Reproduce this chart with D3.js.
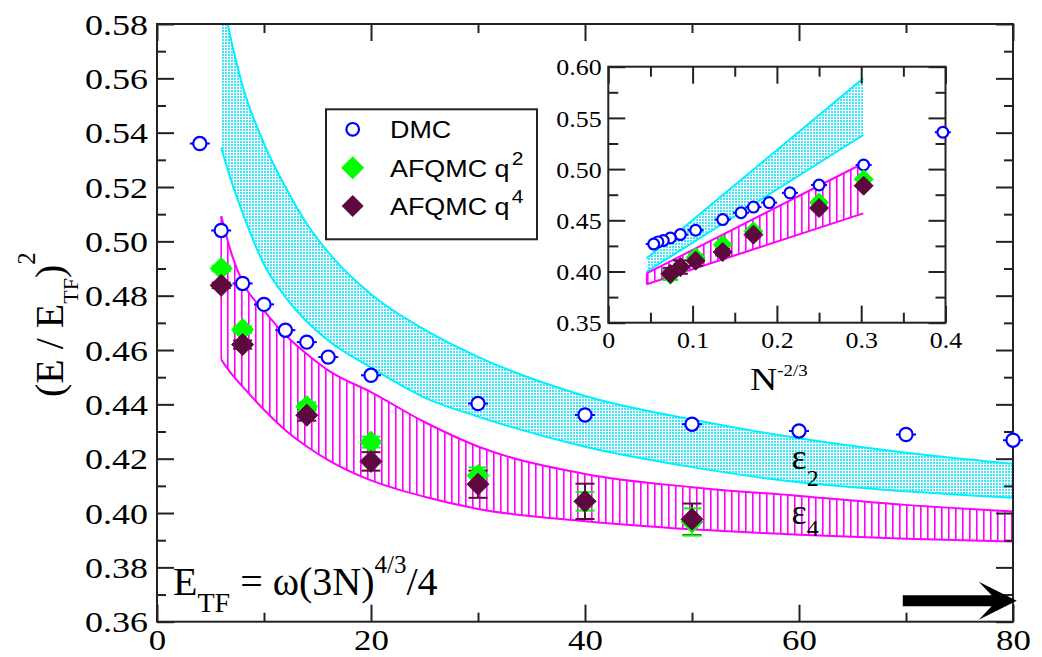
<!DOCTYPE html>
<html><head><meta charset="utf-8">
<script src="https://cdn.jsdelivr.net/npm/d3@7"></script>
<style>body{margin:0;background:#fff}svg{display:block}</style>
</head><body>
<svg id="c" width="1042" height="657"></svg>
<script>
// ---------------- DATA ----------------
const dmcN = [4, 6, 8, 10, 12, 14, 16, 20, 30, 40, 50, 60, 70, 80];
const dmcE = [0.536, 0.504, 0.4845, 0.4768, 0.4673, 0.4629, 0.4574, 0.4507, 0.4403, 0.4361, 0.4327, 0.4302, 0.4289, 0.4268];

const afqN = [6, 8, 14, 20, 30, 40, 50];
const afq2E = [0.4900, 0.4675, 0.4392, 0.4261, 0.4138, 0.4043, 0.3967];
const afq2Err = [0.0010, 0.0012, 0.0015, 0.0020, 0.0030, 0.0034, 0.0050];
const afq4E = [0.4838, 0.4620, 0.4360, 0.4190, 0.4106, 0.4043, 0.3977];
const afq4Err = [0.0010, 0.0015, 0.0020, 0.0034, 0.0050, 0.0065, 0.0058];

// bands (epsilon_2 cyan, epsilon_4 magenta)
const bandN   = [6, 7, 8, 10, 12, 14, 16, 20, 25, 30, 40, 50, 60, 70, 80];
const e2Lower = [0.5345, 0.5215, 0.5105, 0.4915, 0.4795, 0.4705, 0.4635, 0.4535, 0.4425, 0.4355, 0.4244, 0.4169, 0.4113, 0.4080, 0.4056];
const e2Upper = [0.5926, 0.5728, 0.5572, 0.5360, 0.5200, 0.5065, 0.4960, 0.4805, 0.4675, 0.4575, 0.4431, 0.4344, 0.4275, 0.4222, 0.4181];
const e4Upper = [0.5093, 0.4950, 0.4850, 0.4745, 0.4655, 0.4585, 0.4525, 0.4445, 0.4335, 0.4245, 0.4144, 0.4095, 0.4063, 0.4030, 0.4006];
const e4Lower = [0.4565, 0.4510, 0.4465, 0.4380, 0.4305, 0.4245, 0.4195, 0.4120, 0.4060, 0.4015, 0.3970, 0.3940, 0.3920, 0.3905, 0.3895];

// inset bands (straight in N^-2/3)
const insetT       = [0.0455, 0.3025];
const insetE2Lower = [0.3998, 0.5333];
const insetE2Upper = [0.4129, 0.5887];
const insetE4Lower = [0.3875, 0.4568];
const insetE4Upper = [0.3982, 0.5057];

// ticks
const mainXMajor = [0, 20, 40, 60, 80];
const mainXMinor = [10, 30, 50, 70];
const mainYMajor = [0.36, 0.38, 0.40, 0.42, 0.44, 0.46, 0.48, 0.50, 0.52, 0.54, 0.56, 0.58];
const mainYMinor = [0.37, 0.39, 0.41, 0.43, 0.45, 0.47, 0.49, 0.51, 0.53, 0.55, 0.57];
const insetXMajor = [0, 0.1, 0.2, 0.3, 0.4];
const insetXMinor = [0.05, 0.15, 0.25, 0.35];
const insetYMajor = [0.35, 0.40, 0.45, 0.50, 0.55, 0.60];
const insetYMinor = [0.375, 0.425, 0.475, 0.525, 0.575];

const legendNames = ["DMC", "AFQMC q", "AFQMC q"];
const legendSups  = ["", "2", "4"];

// ---------------- SETUP ----------------
const svg = d3.select("#c");
const CYAN = "#00f0ff", MAG = "#ff00ff", BLUE = "#0000ff", GREEN = "#00ff00", MAROON = "#5e0840", INK = "#222";
const SERIF = "'Liberation Serif', 'Times New Roman', serif";
const SANS = "'Liberation Sans', Arial, sans-serif";

const x = d3.scaleLinear().domain([0, 80]).range([157, 1013]);
const y = d3.scaleLinear().domain([0.36, 0.58]).range([621.7, 24]);
const xi = d3.scaleLinear().domain([0, 0.4]).range([608.3, 945.5]);
const yi = d3.scaleLinear().domain([0.35, 0.60]).range([322.7, 66.7]);

const defs = svg.append("defs");
const pd = defs.append("pattern").attr("id", "dots").attr("patternUnits", "userSpaceOnUse").attr("width", 3).attr("height", 3);
pd.append("rect").attr("width", 3).attr("height", 3).attr("fill", "#fff");
pd.append("rect").attr("width", 2).attr("height", 2).attr("fill", "#40e6f4");
const ph = defs.append("pattern").attr("id", "hatch").attr("patternUnits", "userSpaceOnUse").attr("width", 7).attr("height", 10);
ph.append("rect").attr("x", 3).attr("width", 1.6).attr("height", 10).attr("fill", MAG);
defs.append("clipPath").attr("id", "clipMain").append("rect")
  .attr("x", x.range()[0]).attr("y", y.range()[1])
  .attr("width", x.range()[1] - x.range()[0]).attr("height", y.range()[0] - y.range()[1]);

function stretchX(sel, s) {
  sel.each(function () {
    const t = d3.select(this);
    const x0 = +t.attr("x") || 0;
    t.attr("transform", `translate(${x0 * (1 - s)},0) scale(${s},1)`);
  });
}

function drawBand(g, xs, ys, xv, lo, hi, fill, color, curve, leftEdge) {
  const data = xv.map((v, i) => ({ v, lo: lo[i], hi: hi[i] }));
  const area = d3.area().x(d => xs(d.v)).y0(d => ys(d.lo)).y1(d => ys(d.hi)).curve(curve);
  g.append("path").datum(data).attr("d", area).attr("fill", fill);
  const lLo = d3.line().x(d => xs(d.v)).y(d => ys(d.lo)).curve(curve);
  const lHi = d3.line().x(d => xs(d.v)).y(d => ys(d.hi)).curve(curve);
  g.append("path").datum(data).attr("d", lLo).attr("fill", "none").attr("stroke", color).attr("stroke-width", 2);
  g.append("path").datum(data).attr("d", lHi).attr("fill", "none").attr("stroke", color).attr("stroke-width", 2);
  if (leftEdge) {
    const d0 = data[0];
    g.append("line").attr("x1", xs(d0.v)).attr("x2", xs(d0.v)).attr("y1", ys(d0.lo)).attr("y2", ys(d0.hi))
      .attr("stroke", color).attr("stroke-width", 1.6);
  }
}

function drawAxes(g, xs, ys, c) {
  const [xa, xb] = xs.range(), [ya, yb] = ys.range();
  const clean = sel => { sel.select(".domain").remove(); sel.selectAll("line").attr("stroke", INK).attr("stroke-width", 2); };
  const gb = g.append("g").attr("transform", `translate(0,${ya})`)
    .call(d3.axisBottom(xs).tickValues(c.xMajor).tickSize(-c.maj).tickFormat(c.xFmt)).call(clean);
  gb.attr("font-family", SERIF).attr("font-size", c.xfs);
  gb.selectAll("text").attr("y", c.xLabY).attr("dy", null).attr("fill", "#000")
    .style("font-family", SERIF).style("font-size", c.xfs + "px").call(stretchX, c.sx);
  g.append("g").attr("transform", `translate(0,${ya})`)
    .call(d3.axisBottom(xs).tickValues(c.xMinor).tickSize(-c.min).tickFormat("")).call(clean);
  g.append("g").attr("transform", `translate(0,${yb})`)
    .call(d3.axisTop(xs).tickValues(c.xMajor).tickSize(-c.maj).tickFormat("")).call(clean);
  g.append("g").attr("transform", `translate(0,${yb})`)
    .call(d3.axisTop(xs).tickValues(c.xMinor).tickSize(-c.min).tickFormat("")).call(clean);
  const gl = g.append("g").attr("transform", `translate(${xa},0)`)
    .call(d3.axisLeft(ys).tickValues(c.yMajor).tickSize(-c.maj).tickPadding(c.yPad).tickFormat(d3.format(".2f"))).call(clean);
  gl.attr("font-family", SERIF).attr("font-size", c.fs);
  gl.selectAll("text").attr("dy", "0.34em").attr("fill", "#000")
    .style("font-family", SERIF).style("font-size", c.fs + "px").call(stretchX, c.sy);
  g.append("g").attr("transform", `translate(${xa},0)`)
    .call(d3.axisLeft(ys).tickValues(c.yMinor).tickSize(-c.min).tickFormat("")).call(clean);
  g.append("g").attr("transform", `translate(${xb},0)`)
    .call(d3.axisRight(ys).tickValues(c.yMajor).tickSize(-c.maj).tickFormat("")).call(clean);
  g.append("g").attr("transform", `translate(${xb},0)`)
    .call(d3.axisRight(ys).tickValues(c.yMinor).tickSize(-c.min).tickFormat("")).call(clean);
  g.append("rect").attr("x", xa).attr("y", yb).attr("width", xb - xa).attr("height", ya - yb)
    .attr("fill", "none").attr("stroke", INK).attr("stroke-width", 2);
}

const diamond = h => `M0,${-h}L${h},0L0,${h}L${-h},0Z`;

function drawDMC(g, xs, ys, xv, r, capW) {
  const pts = xv.map((v, i) => ({ v, e: dmcE[i] }));
  g.selectAll(null).data(pts).join("line")
    .attr("x1", d => xs(d.v) - capW / 2).attr("x2", d => xs(d.v) + capW / 2)
    .attr("y1", d => ys(d.e)).attr("y2", d => ys(d.e)).attr("stroke", BLUE).attr("stroke-width", 2);
  g.selectAll(null).data(pts).join("circle")
    .attr("cx", d => xs(d.v)).attr("cy", d => ys(d.e)).attr("r", r)
    .attr("fill", "#fff").attr("stroke", BLUE).attr("stroke-width", 2.2);
}

function drawErr(g, xs, ys, xv, E, err, color, capW) {
  const pts = xv.map((v, i) => ({ v, e: E[i], s: err[i] }));
  g.selectAll(null).data(pts).join("line")
    .attr("x1", d => xs(d.v)).attr("x2", d => xs(d.v))
    .attr("y1", d => ys(d.e - d.s)).attr("y2", d => ys(d.e + d.s)).attr("stroke", color).attr("stroke-width", 2);
  [-1, 1].forEach(sg => {
    g.selectAll(null).data(pts).join("line")
      .attr("x1", d => xs(d.v) - capW / 2).attr("x2", d => xs(d.v) + capW / 2)
      .attr("y1", d => ys(d.e + sg * d.s)).attr("y2", d => ys(d.e + sg * d.s))
      .attr("stroke", color).attr("stroke-width", 2);
  });
}
function drawDiamonds(g, xs, ys, xv, E, color, h) {
  g.selectAll(null).data(xv.map((v, i) => ({ v, e: E[i] }))).join("path")
    .attr("d", diamond(h)).attr("transform", d => `translate(${xs(d.v)},${ys(d.e)})`)
    .attr("fill", color).attr("stroke", color).attr("stroke-width", 1);
}

// ---------------- MAIN PANEL ----------------
const main = svg.append("g");
const bands = main.append("g").attr("clip-path", "url(#clipMain)");
drawBand(bands, x, y, bandN, e2Lower, e2Upper, "url(#dots)", CYAN, d3.curveMonotoneX, false);
drawBand(bands, x, y, bandN, e4Lower, e4Upper, "url(#hatch)", MAG, d3.curveMonotoneX, true);

drawAxes(main, x, y, {
  xMajor: mainXMajor, xMinor: mainXMinor, yMajor: mainYMajor, yMinor: mainYMinor,
  maj: 17, min: 9, fs: 30, xfs: 29, sx: 1.2, sy: 1.2, xLabY: 28.5, yPad: 9, xFmt: d3.format("d")
});

drawDMC(main, x, y, dmcN, 6.6, 20);
drawErr(main, x, y, afqN, afq4E, afq4Err, MAROON, 19);
drawErr(main, x, y, afqN, afq2E, afq2Err, GREEN, 19);
drawDiamonds(main, x, y, afqN, afq2E, GREEN, 11);
drawDiamonds(main, x, y, afqN, afq4E, MAROON, 11);

// y-axis title
const yt = svg.append("text").attr("transform", "translate(63,397) rotate(-90)")
  .style("font-family", SERIF).attr("font-size", 40).attr("fill", "#000");
yt.append("tspan").text("(E / E");
yt.append("tspan").attr("font-size", 22).attr("dy", 15).text("TF");
yt.append("tspan").attr("dy", -15).text(")");
yt.append("tspan").attr("font-size", 25).attr("dy", -28).text("2");

// E_TF formula
const ef = svg.append("text").attr("x", 173).attr("y", 595)
  .style("font-family", SERIF).attr("font-size", 40).attr("fill", "#000");
ef.append("tspan").text("E");
ef.append("tspan").attr("font-size", 28).attr("dy", 17).text("TF");
ef.append("tspan").attr("dy", -17).text(" = \u03c9(3N)");
ef.append("tspan").attr("font-size", 25).attr("dy", -22).text("4/3");
ef.append("tspan").attr("dy", 22).text("/4");

// epsilon labels
[["2", 0.4163, 17], ["4", 0.3960, 12]].forEach(([s, ev, sub]) => {
  const t = svg.append("text").attr("x", x(59.3)).attr("y", y(ev))
    .style("font-family", SERIF).attr("font-size", 36).attr("fill", "#000");
  t.append("tspan").text("\u03b5");
  t.append("tspan").attr("font-size", 24).attr("dy", sub).text(s);
});

// arrow
{
  const yA = y(0.3677), xs0 = x(69.7), xh = x(76.8), xn = x(78.0), xt = x(80.35);
  svg.append("path")
    .attr("d", `M${xs0},${yA - 5.5}L${xn},${yA - 5.5}L${xh},${yA - 19}L${xt},${yA}L${xh},${yA + 19}L${xn},${yA + 5.5}L${xs0},${yA + 5.5}Z`)
    .attr("fill", "#000");
}

// legend
{
  const lg = svg.append("g");
  lg.append("rect").attr("x", 326).attr("y", 109.3).attr("width", 211).attr("height", 130)
    .attr("fill", "#fff").attr("stroke", INK).attr("stroke-width", 2);
  const rowY = [129.3, 167.7, 206];
  lg.append("circle").attr("cx", 352.7).attr("cy", rowY[0]).attr("r", 6.3)
    .attr("fill", "#fff").attr("stroke", BLUE).attr("stroke-width", 2.2);
  lg.append("path").attr("d", diamond(11.5)).attr("transform", `translate(352.7,${rowY[1]})`).attr("fill", GREEN);
  lg.append("path").attr("d", diamond(11)).attr("transform", `translate(352.7,${rowY[2]})`).attr("fill", MAROON);
  legendNames.forEach((nm, i) => {
    const t = lg.append("text").attr("x", 390).attr("y", rowY[i] + 9)
      .style("font-family", SANS).attr("font-size", 23).attr("fill", "#000");
    t.append("tspan").text(nm);
    if (legendSups[i]) t.append("tspan").attr("font-size", 18).attr("dx", 2).attr("dy", -11.5).text(legendSups[i]);
    stretchX(t, 1.17);
  });
}

// ---------------- INSET ----------------
const ins = svg.append("g");
ins.append("rect").attr("x", xi.range()[0]).attr("y", yi.range()[1])
  .attr("width", xi.range()[1] - xi.range()[0]).attr("height", yi.range()[0] - yi.range()[1]).attr("fill", "#fff");
drawBand(ins, xi, yi, insetT, insetE2Lower, insetE2Upper, "url(#dots)", CYAN, d3.curveLinear, false);
drawBand(ins, xi, yi, insetT, insetE4Lower, insetE4Upper, "url(#hatch)", MAG, d3.curveLinear, true);
drawAxes(ins, xi, yi, {
  xMajor: insetXMajor, xMinor: insetXMinor, yMajor: insetYMajor, yMinor: insetYMinor,
  maj: 17, min: 10, fs: 24, xfs: 24, sx: 1.08, sy: 1.08, xLabY: 25.6, yPad: 6.6,
  xFmt: d => d === 0 ? "0" : d3.format(".1f")(d)
});
const tN = dmcN.map(n => Math.pow(n, -2 / 3));
const tA = afqN.map(n => Math.pow(n, -2 / 3));
drawDMC(ins, xi, yi, tN, 5.4, 16);
drawErr(ins, xi, yi, tA, afq4E, afq4Err, MAROON, 15);
drawErr(ins, xi, yi, tA, afq2E, afq2Err, GREEN, 15);
drawDiamonds(ins, xi, yi, tA, afq2E, GREEN, 9.5);
drawDiamonds(ins, xi, yi, tA, afq4E, MAROON, 9.5);

// inset x title
{
  const t = svg.append("text").attr("x", 750).attr("y", 390)
    .style("font-family", SERIF).attr("font-size", 32).attr("fill", "#000");
  t.append("tspan").text("N");
  t.append("tspan").attr("font-size", 16).attr("dy", -14).text("-2/3");
  stretchX(t, 1.18);
}
</script>
</body></html>
